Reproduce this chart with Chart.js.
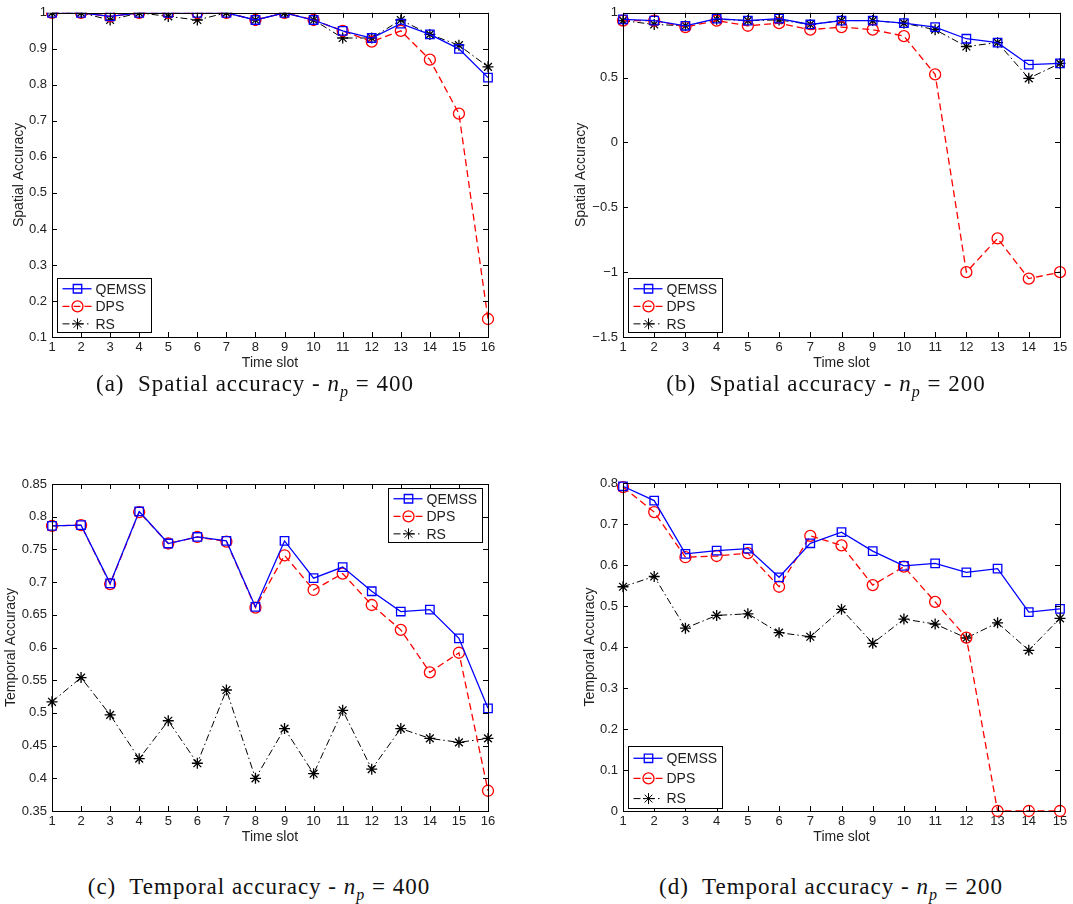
<!DOCTYPE html>
<html>
<head>
<meta charset="UTF-8">
<script src="https://cdn.jsdelivr.net/npm/chart.js@4.4.1/dist/chart.umd.min.js"></script>
<title>Spatial and temporal accuracy</title>
<style>
	body { margin: 0; background: #fff; }
	.panel { position: absolute; }
	.cap { position: absolute; width: 520px; text-align: center; font-family: "Liberation Serif", "DejaVu Serif", serif; font-size: 23px; letter-spacing: 1px; color: #111; white-space: nowrap; }
	.cap i { font-style: italic; }
	.cap sub { font-size: 16px; }
</style>
</head>
<body>
	<canvas class="panel" id="chartA" width="500" height="380" style="left:0px;top:0px"></canvas>
	<canvas class="panel" id="chartB" width="513" height="380" style="left:560px;top:0px"></canvas>
	<canvas class="panel" id="chartC" width="500" height="414" style="left:0px;top:440px"></canvas>
	<canvas class="panel" id="chartD" width="513" height="414" style="left:560px;top:440px"></canvas>

	<div class="cap" style="left:-5px;top:371px">(a)&nbsp; Spatial accuracy - <i>n<sub>p</sub></i> = 400</div>
	<div class="cap" style="left:566px;top:371px">(b)&nbsp; Spatial accuracy - <i>n<sub>p</sub></i> = 200</div>
	<div class="cap" style="left:-1px;top:874px">(c)&nbsp; Temporal accuracy - <i>n<sub>p</sub></i> = 400</div>
	<div class="cap" style="left:571px;top:874px">(d)&nbsp; Temporal accuracy - <i>n<sub>p</sub></i> = 200</div>

	<script>
		// time slots
		var slots16 = ['1','2','3','4','5','6','7','8','9','10','11','12','13','14','15','16'];
		var slots15 = ['1','2','3','4','5','6','7','8','9','10','11','12','13','14','15'];

		// (a) spatial, np = 400
		var qemssS400 = [1, 1, 0.99, 1, 1, 1, 1, 0.98, 1, 0.98, 0.95, 0.93, 0.97, 0.94, 0.90, 0.82];
		var dpsS400 = [1, 1, 0.99, 1, 1, 1, 1, 0.98, 1, 0.98, 0.95, 0.92, 0.95, 0.87, 0.72, 0.15];
		var rsS400 = [1, 1, 0.98, 1, 0.99, 0.98, 1, 0.98, 1, 0.98, 0.93, 0.93, 0.98, 0.94, 0.91, 0.85];

		// (b) spatial, np = 200
		var qemssS200 = [0.95, 0.94, 0.90, 0.955, 0.94, 0.955, 0.91, 0.94, 0.94, 0.92, 0.89, 0.80, 0.77, 0.60, 0.61];
		var dpsS200 = [0.94, 0.94, 0.89, 0.94, 0.90, 0.92, 0.87, 0.89, 0.87, 0.82, 0.525, -1.0, -0.74, -1.05, -1.0];
		var rsS200 = [0.94, 0.91, 0.90, 0.95, 0.94, 0.945, 0.91, 0.94, 0.94, 0.92, 0.87, 0.74, 0.77, 0.495, 0.61];

		// (c) temporal, np = 400
		var qemssT400 = [0.786, 0.787, 0.698, 0.808, 0.759, 0.769, 0.763, 0.662, 0.763, 0.706, 0.723, 0.686, 0.655, 0.658, 0.614, 0.507];
		var dpsT400 = [0.786, 0.787, 0.697, 0.807, 0.759, 0.769, 0.762, 0.661, 0.741, 0.688, 0.713, 0.665, 0.627, 0.562, 0.592, 0.381];
		var rsT400 = [0.517, 0.554, 0.497, 0.430, 0.488, 0.423, 0.535, 0.400, 0.476, 0.407, 0.504, 0.414, 0.476, 0.461, 0.455, 0.461];

		// (d) temporal, np = 200
		var qemssT200 = [0.792, 0.757, 0.627, 0.635, 0.640, 0.570, 0.653, 0.680, 0.634, 0.598, 0.604, 0.582, 0.591, 0.485, 0.493];
		var dpsT200 = [0.79, 0.729, 0.619, 0.622, 0.629, 0.547, 0.671, 0.648, 0.551, 0.596, 0.510, 0.423, 0, 0, 0];
		var rsT200 = [0.547, 0.572, 0.446, 0.477, 0.481, 0.435, 0.425, 0.492, 0.409, 0.468, 0.456, 0.422, 0.459, 0.392, 0.470];

		// y tick values
		var ticksS400 = [0.1, 0.2, 0.3, 0.4, 0.5, 0.6, 0.7, 0.8, 0.9, 1];
		var ticksS200 = [-1.5, -1, -0.5, 0, 0.5, 1];
		var ticksT400 = [0.35, 0.4, 0.45, 0.5, 0.55, 0.6, 0.65, 0.7, 0.75, 0.8, 0.85];
		var ticksT200 = [0, 0.1, 0.2, 0.3, 0.4, 0.5, 0.6, 0.7, 0.8];

		var textColor = '#222';
		var sansFont = '"Liberation Sans", Arial, sans-serif';

		// matlab style box, inward ticks and legend inside the axes
		var matlabBox = {
			id : 'matlabBox',
			afterDraw : function(chart, args, opts) {
				var ctx = chart.ctx, a = chart.chartArea;
				var xs = chart.scales.x, ys = chart.scales.y;
				ctx.save();
				ctx.strokeStyle = '#000';
				ctx.lineWidth = 1;
				ctx.strokeRect(Math.round(a.left) + 0.5, Math.round(a.top) + 0.5, Math.round(a.right - a.left), Math.round(a.bottom - a.top));
				ctx.beginPath();
				xs.ticks.forEach(function(t, i) {
					var px = Math.round(xs.getPixelForTick(i)) + 0.5;
					ctx.moveTo(px, a.bottom); ctx.lineTo(px, a.bottom - 5);
					ctx.moveTo(px, a.top); ctx.lineTo(px, a.top + 5);
				});
				ys.ticks.forEach(function(t) {
					var py = Math.round(ys.getPixelForValue(t.value)) + 0.5;
					ctx.moveTo(a.left, py); ctx.lineTo(a.left + 5, py);
					ctx.moveTo(a.right, py); ctx.lineTo(a.right - 5, py);
				});
				ctx.stroke();

				// legend
				var w = 94, h = opts.h;
				var bx = opts.corner.indexOf('w') >= 0 ? a.left + 5 : a.right - 6 - w;
				var by = opts.corner.indexOf('s') >= 0 ? a.bottom - opts.gap - h : a.top + opts.gap;
				bx = Math.round(bx) + 0.5; by = Math.round(by) + 0.5;
				ctx.fillStyle = '#fff';
				ctx.fillRect(bx, by, w, h);
				ctx.strokeStyle = '#000';
				ctx.strokeRect(bx, by, w, h);
				ctx.font = '14px ' + sansFont;
				ctx.textBaseline = 'middle';
				chart.data.datasets.forEach(function(ds, i) {
					var ry = by + h * 0.19 + i * h * 0.325;
					ctx.strokeStyle = ds.borderColor;
					ctx.lineWidth = ds.borderWidth;
					ctx.setLineDash(ds.borderDash || []);
					ctx.beginPath();
					ctx.moveTo(bx + 5, ry); ctx.lineTo(bx + 34, ry);
					ctx.stroke();
					ctx.setLineDash([]);
					ctx.fillStyle = 'rgba(0,0,0,0)';
					Chart.helpers.drawPoint(ctx, {pointStyle : ds.pointStyle, radius : ds.pointRadius, rotation : 0, borderWidth : ds.pointBorderWidth}, bx + 20, ry);
					ctx.fillStyle = textColor;
					ctx.fillText(ds.label, bx + 38, ry + 1);
				});
				ctx.restore();
			}
		};

		function fmt(v) {
			return String(Math.round(v * 100) / 100).replace('-', '\u2212');
		}

		function makeSets(q, d, r, clip) {
			return [ {
				label : 'QEMSS',
				data : q,
				clip : clip,
				borderColor : '#0000ff',
				borderWidth : 1.3,
				pointStyle : 'rect',
				pointRadius : 6,
				pointBorderWidth : 1.3,
				pointBorderColor : '#0000ff',
				pointBackgroundColor : 'rgba(0,0,0,0)'
			}, {
				label : 'DPS',
				data : d,
				clip : clip,
				borderColor : '#ff0000',
				borderWidth : 1.3,
				borderDash : [7, 4],
				pointStyle : 'circle',
				pointRadius : 5.5,
				pointBorderWidth : 1.3,
				pointBorderColor : '#ff0000',
				pointBackgroundColor : 'rgba(0,0,0,0)'
			}, {
				label : 'RS',
				data : r,
				clip : clip,
				borderColor : '#000000',
				borderWidth : 1,
				borderDash : [7, 3, 1.5, 3],
				pointStyle : 'star',
				pointRadius : 5.5,
				pointBorderWidth : 1.3,
				pointBorderColor : '#000000',
				pointBackgroundColor : 'rgba(0,0,0,0)'
			} ];
		}

		//畫圖
		function drawChart(id, labels, sets, yTicks, yTitle, layout) {
			var ctx = document.getElementById(id).getContext('2d');
			return new Chart(ctx, {
				type : 'line',
				data : {
					labels : labels,
					datasets : sets
				},
				options : {
					responsive : false,
					animation : false,
					layout : {
						padding : {left : 0, top : layout.top, right : layout.right, bottom : 8}
					},
					elements : {
						line : { tension : 0 }
					},
					scales : {
						x : {
							type : 'category',
							offset : false,
							grid : { display : false, drawTicks : false },
							border : { display : false },
							ticks : {
								autoSkip : false,
								maxRotation : 0,
								padding : 3,
								color : textColor,
								font : { family : sansFont, size : 13 }
							},
							title : {
								display : true,
								text : 'Time slot',
								color : textColor,
								padding : {top : 0, bottom : 0},
								font : { family : sansFont, size : 14 }
							},
							afterFit : function(s) { s.height = 35; }
						},
						y : {
							min : yTicks[0],
							max : yTicks[yTicks.length - 1],
							grid : { display : false, drawTicks : false },
							border : { display : false },
							afterBuildTicks : function(s) {
								s.ticks = yTicks.map(function(v) { return {value : v}; });
							},
							ticks : {
								padding : 5,
								color : textColor,
								callback : function(v) { return fmt(v); },
								font : { family : sansFont, size : 13 }
							},
							title : {
								display : true,
								text : yTitle,
								color : textColor,
								padding : {top : layout.titleX, bottom : 0},
								font : { family : sansFont, size : 14 }
							},
							afterFit : function(s) { s.width = layout.yWidth; }
						}
					},
					plugins : {
						legend : { display : false },
						tooltip : { enabled : false },
						matlabBox : layout.legend
					}
				},
				plugins : [ matlabBox ]
			});
		}

		drawChart('chartA', slots16, makeSets(qemssS400, dpsS400, rsS400, undefined), ticksS400, 'Spatial Accuracy',
			{top : 10, right : 12, yWidth : 52, titleX : 11, legend : {corner : 'sw', gap : 5, h : 54}});
		drawChart('chartB', slots15, makeSets(qemssS200, dpsS200, rsS200, false), ticksS200, 'Spatial Accuracy',
			{top : 8, right : 13, yWidth : 63, titleX : 13, legend : {corner : 'sw', gap : 5, h : 54}});
		drawChart('chartC', slots16, makeSets(qemssT400, dpsT400, rsT400, false), ticksT400, 'Temporal Accuracy',
			{top : 44, right : 12, yWidth : 52, titleX : 3, legend : {corner : 'ne', gap : 4, h : 54}});
		drawChart('chartD', slots15, makeSets(qemssT200, dpsT200, rsT200, false), ticksT200, 'Temporal Accuracy',
			{top : 43, right : 13, yWidth : 63, titleX : 22, legend : {corner : 'sw', gap : 3, h : 62}});
	</script>
</body>
</html>
